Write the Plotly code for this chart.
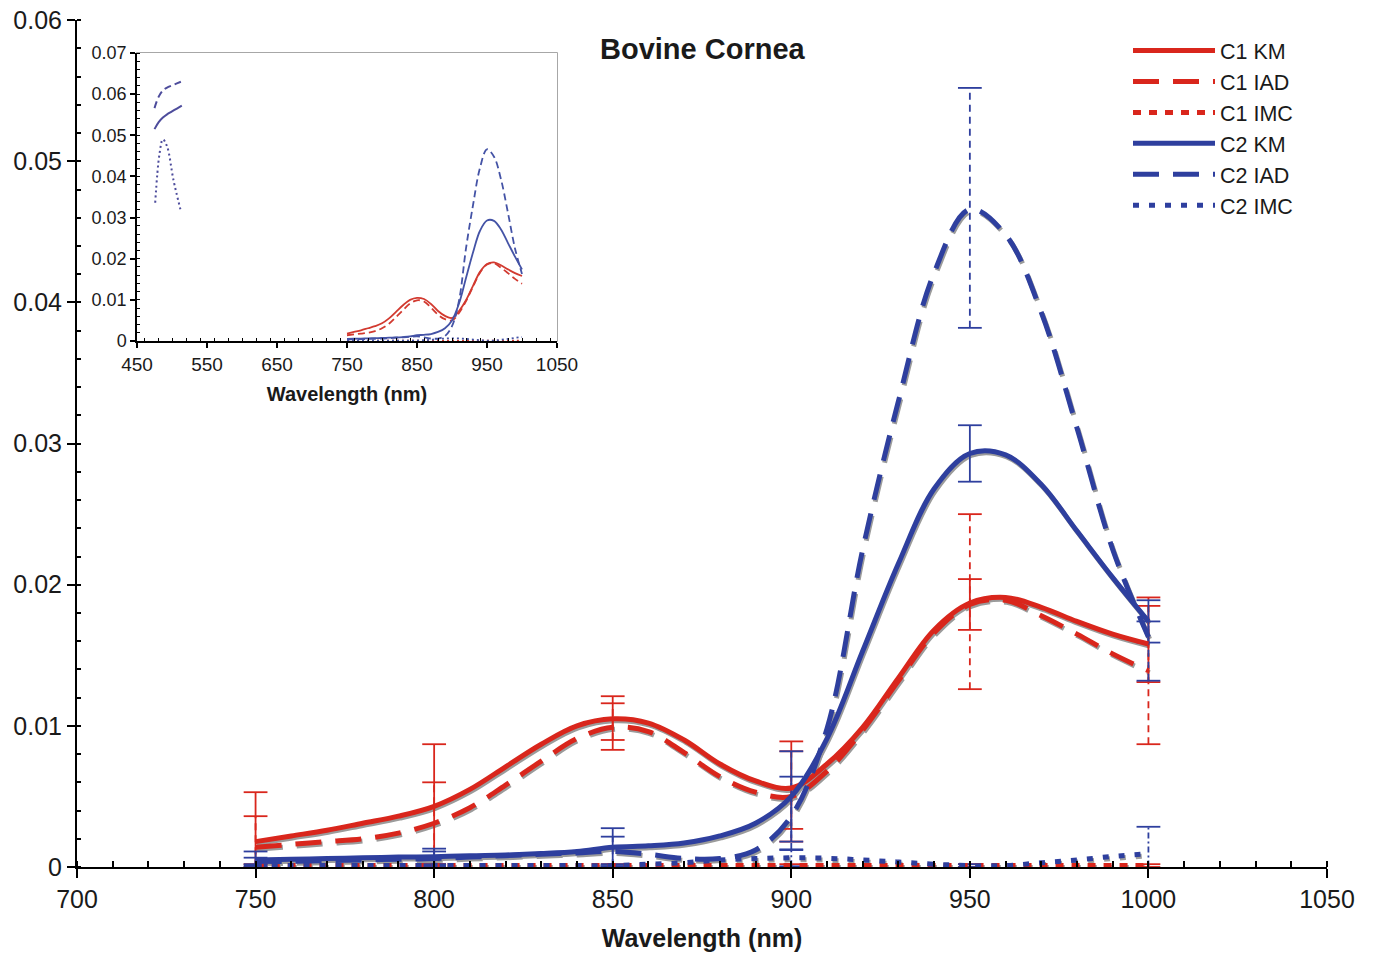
import plotly.graph_objects as go

# ---------------- data ----------------
wl = [750, 760, 770, 780, 790, 800, 810, 820, 830, 840, 850, 860, 870,
      880, 890, 900, 910, 920, 930, 940, 950, 960, 970, 980, 990, 1000]

c1_km = [0.0018, 0.0022, 0.0026, 0.0031, 0.0036, 0.0043, 0.0055, 0.0071, 0.0087, 0.0100,
         0.0105, 0.0102, 0.0090, 0.0073, 0.0061, 0.0056, 0.0073, 0.0099, 0.0134, 0.0168,
         0.0187, 0.0191, 0.0184, 0.0174, 0.0165, 0.0158]
c1_iad = [0.0014, 0.0016, 0.0018, 0.0020, 0.0024, 0.0031, 0.0042, 0.0058, 0.0075, 0.0091,
          0.0099, 0.0096, 0.0081, 0.0064, 0.0053, 0.0050, 0.0068, 0.0097, 0.0132, 0.0166,
          0.0186, 0.0189, 0.0178, 0.0165, 0.0151, 0.0139]
c1_imc = [0.0001] * 26
c2_km = [0.0005, 0.00055, 0.0006, 0.00065, 0.0007, 0.00073, 0.0008, 0.00085, 0.00095, 0.0011,
         0.0014, 0.0015, 0.0017, 0.0022, 0.0031, 0.0050, 0.0091, 0.0153, 0.0215, 0.0268,
         0.0293, 0.0292, 0.0271, 0.0238, 0.0205, 0.0174]
c2_iad = [0.0004, 0.0004, 0.00045, 0.0005, 0.00055, 0.0006, 0.0007, 0.0008, 0.0009, 0.0010,
          0.0011, 0.0009, 0.0006, 0.0006, 0.0012, 0.0036, 0.0098, 0.0225, 0.0330, 0.0421,
          0.0466, 0.0448, 0.0393, 0.0311, 0.0225, 0.0163]
c2_imc = [0.0001, 0.0001, 0.0001, 0.0001, 0.0001, 0.0001, 0.0001, 0.0001, 0.0001, 0.0001,
          0.0001, 0.0002, 0.0003, 0.0005, 0.0006, 0.00065, 0.00062, 0.0005, 0.00035, 0.0002,
          0.0001, 0.0001, 0.0003, 0.0005, 0.00075, 0.00095]

# error bars at the measured wavelengths
err_wl = [750, 800, 850, 900, 950, 1000]
c1_km_c = [0.0018, 0.0043, 0.0102, 0.0058, 0.0186, 0.0158]
c1_km_e = [0.0035, 0.0044, 0.0019, 0.0031, 0.0018, 0.0027]
c1_iad_c = [0.0014, 0.0031, 0.0103, 0.0050, 0.0188, 0.0139]
c1_iad_e = [0.0022, 0.0029, 0.0013, 0.0032, 0.0062, 0.0052]
c1_imc_c = [0.0001, 0.0001, 0.0001, 0.0001, 0.0001, 0.0001]
c1_imc_e = [0.0001, 0.0001, 0.0001, 0.0001, 0.0001, 0.0001]
c2_km_c = [0.0006, 0.0007, 0.00145, 0.0050, 0.0293, 0.0174]
c2_km_e = [0.0005, 0.0006, 0.0013, 0.0032, 0.0020, 0.0015]
c2_iad_c = [0.0003, 0.0005, 0.0011, 0.0038, 0.0467, 0.0153]
c2_iad_e = [0.00036, 0.0006, 0.00105, 0.0026, 0.0085, 0.0021]
c2_imc_c = [0.0001, 0.0001, 0.0001, 0.00065, 0.0001, 0.00095]
c2_imc_e = [0.0001, 0.0001, 0.0001, 0.0006, 0.0001, 0.0019]

# inset: extra short segments at the blue end of the spectrum
inset_wl = [475, 481, 487, 493, 500, 507, 514]
inset_km = [0.0515, 0.0532, 0.0543, 0.0551, 0.0558, 0.0565, 0.0572]
inset_iad = [0.0566, 0.0594, 0.0609, 0.0616, 0.0621, 0.0626, 0.0631]
inset_imc_wl = [476, 482, 487, 493, 502, 512]
inset_imc = [0.0336, 0.0453, 0.0490, 0.0473, 0.0392, 0.0320]

main_yticks = [0, 0.01, 0.02, 0.03, 0.04, 0.05, 0.06]
main_yticktext = ["0", "0.01", "0.02", "0.03", "0.04", "0.05", "0.06"]

# ---------------- styles ----------------
RED = "#d9261c"
BLUE = "#2e3f9e"
GREY = "#9b9b9b"
IN_RED = "#d23a30"
IN_BLUE = "#4453a6"
IN_PURP = "#4d4c9c"
FONT = "Liberation Sans, Arial, Helvetica, sans-serif"

series = [
    ("C1 KM", c1_km, RED, "solid", c1_km_c, c1_km_e, "solid"),
    ("C1 IAD", c1_iad, RED, "26px,14px", c1_iad_c, c1_iad_e, "7px,5px"),
    ("C1 IMC", c1_imc, RED, "8px,8px", c1_imc_c, c1_imc_e, "6px,3px,2px,3px"),
    ("C2 KM", c2_km, BLUE, "solid", c2_km_c, c2_km_e, "solid"),
    ("C2 IAD", c2_iad, BLUE, "26px,14px", c2_iad_c, c2_iad_e, "7px,5px"),
    ("C2 IMC", c2_imc, BLUE, "6px,10px", c2_imc_c, c2_imc_e, "6px,3px,2px,3px"),
]
inset_dash = {"solid": "solid", "26px,14px": "7px,4px", "8px,8px": "2px,3px", "6px,10px": "2px,3px"}

# page layout: the html body adds an 8px offset, compensate for it
BODY = 8
W, H = 1373 - BODY, 960 - BODY
ML, MR, MT, MB = 77 - BODY, 1373 - 1327, 20 - BODY, 960 - 867
X0, X1, Y0, Y1 = 700, 1050, 0.0, 0.06
YTOP = Y1 * 1.0002  # tiny headroom so the top tick is kept
PLOT_W, PLOT_H = W - ML - MR, H - MT - MB
dx = 1.2 * (X1 - X0) / PLOT_W
dy = 2.0 * (YTOP - Y0) / PLOT_H


def px_x(p):  # page pixel -> paper x
    return (p - BODY - ML) / PLOT_W


def px_y(p):  # page pixel -> paper y
    return (H - MB - (p - BODY)) / PLOT_H


fig = go.Figure()

# shadows (base axes, shifted range)
for name, ys, col, dash, *_ in series:
    fig.add_trace(go.Scatter(x=wl, y=ys, mode="lines", xaxis="x", yaxis="y",
                             line=dict(color=GREY, width=5, dash=dash, shape="spline"),
                             showlegend=False, hoverinfo="skip"))

# error bars (drawn first so the curves sit on top)
for name, ys, col, dash, cc, ee, edash in series:
    bx, by = [], []
    for xv, cv, ev in zip(err_wl, cc, ee):
        bx += [xv, xv, None]
        by += [cv - ev, cv + ev, None]
    fig.add_trace(go.Scatter(x=bx, y=by, mode="lines", xaxis="x3", yaxis="y3",
                             line=dict(color=col, width=1.8, dash=edash),
                             showlegend=False, hoverinfo="skip"))
    fig.add_trace(go.Scatter(x=err_wl + err_wl,
                             y=[c - e for c, e in zip(cc, ee)] + [c + e for c, e in zip(cc, ee)],
                             mode="markers", xaxis="x3", yaxis="y3",
                             marker=dict(symbol="line-ew", size=17,
                                         line=dict(color=col, width=1.8)),
                             showlegend=False, hoverinfo="skip"))

# main curves
for name, ys, col, dash, *_ in series:
    fig.add_trace(go.Scatter(x=wl, y=ys, mode="lines", name=name, xaxis="x3", yaxis="y3",
                             line=dict(color=col, width=5, dash=dash, shape="spline")))

# inset curves
for name, ys, col, dash, *_ in series:
    icol = IN_RED if col == RED else IN_BLUE
    fig.add_trace(go.Scatter(x=wl, y=ys, mode="lines", xaxis="x2", yaxis="y2",
                             line=dict(color=icol, width=1.8, dash=inset_dash[dash], shape="spline"),
                             showlegend=False, hoverinfo="skip"))
fig.add_trace(go.Scatter(x=inset_wl, y=inset_km, mode="lines", xaxis="x2", yaxis="y2",
                         line=dict(color=IN_PURP, width=2, shape="spline"),
                         showlegend=False, hoverinfo="skip"))
fig.add_trace(go.Scatter(x=inset_wl, y=inset_iad, mode="lines", xaxis="x2", yaxis="y2",
                         line=dict(color=IN_PURP, width=2, dash="7px,4px", shape="spline"),
                         showlegend=False, hoverinfo="skip"))
fig.add_trace(go.Scatter(x=inset_imc_wl, y=inset_imc, mode="lines", xaxis="x2", yaxis="y2",
                         line=dict(color=IN_PURP, width=2, dash="2px,3px", shape="spline"),
                         showlegend=False, hoverinfo="skip"))

ix0, ix1 = px_x(137), px_x(557)
iy0, iy1 = px_y(341), px_y(53)

fig.update_layout(
    template="none",
    width=W, height=H,
    margin=dict(l=ML, r=MR, t=MT, b=MB, autoexpand=False),
    paper_bgcolor="white", plot_bgcolor="white",
    font=dict(family=FONT, color="#1a1a1a"),
    xaxis=dict(domain=[0, 1], range=[X0 - dx, X1 - dx], visible=False, fixedrange=True,
               automargin=False),
    yaxis=dict(domain=[0, 1], range=[Y0 + dy, YTOP + dy], visible=False, fixedrange=True,
               automargin=False),
    xaxis3=dict(overlaying="x", anchor="y3", range=[X0, X1], dtick=50, tick0=700,
                automargin=False, ticklabeloverflow="allow",
                showgrid=False, zeroline=False, showline=True, linecolor="black", linewidth=2,
                ticks="outside", ticklen=9, tickwidth=2, tickcolor="black",
                tickfont=dict(size=25, family=FONT),
                minor=dict(dtick=10, ticks="inside", ticklen=6, tickwidth=1.5, tickcolor="black"),
                title=dict(text="<b>Wavelength (nm)</b>", font=dict(size=25, family=FONT), standoff=17)),
    yaxis3=dict(overlaying="y", anchor="x3", range=[Y0, YTOP],
                tickmode="array", tickvals=main_yticks, ticktext=main_yticktext,
                automargin=False, ticklabeloverflow="allow",
                showgrid=False, zeroline=False, showline=True, linecolor="black", linewidth=2,
                ticks="outside", ticklen=8, tickwidth=2, tickcolor="black",
                tickfont=dict(size=25, family=FONT), ticklabelstandoff=0,
                minor=dict(tickmode="linear", tick0=0, dtick=0.002, ticks="inside", ticklen=4,
                           tickwidth=1.5, tickcolor="black")),
    xaxis2=dict(domain=[ix0, ix1], anchor="y2", range=[450, 1050], dtick=100, tick0=450,
                automargin=False,
                showgrid=False, zeroline=False, showline=True, linecolor="black", linewidth=1.5,
                ticks="outside", ticklen=5, tickwidth=1.5, tickcolor="black",
                tickfont=dict(size=19, family=FONT),
                minor=dict(dtick=20, ticks="inside", ticklen=3, tickwidth=1, tickcolor="black"),
                title=dict(text="<b>Wavelength (nm)</b>", font=dict(size=20, family=FONT), standoff=13)),
    yaxis2=dict(domain=[iy0, iy1], anchor="x2", range=[0, 0.07], dtick=0.01, tick0=0,
                automargin=False,
                showgrid=False, zeroline=False, showline=True, linecolor="black", linewidth=1.5,
                ticks="outside", ticklen=5, tickwidth=1.5, tickcolor="black",
                tickfont=dict(size=18, family=FONT),
                minor=dict(dtick=0.002, ticks="inside", ticklen=3, tickwidth=1, tickcolor="black")),
    legend=dict(x=px_x(1128), y=px_y(30), xanchor="left", yanchor="top", bgcolor="rgba(0,0,0,0)",
                font=dict(size=21.5, family=FONT), itemwidth=82, tracegroupgap=0),
    shapes=[dict(type="rect", xref="x2 domain", yref="y2 domain", x0=0, x1=1, y0=0, y1=1,
                 line=dict(color="#8a8a8a", width=1.5), layer="below")],
    annotations=[dict(text="<b>Bovine Cornea</b>", x=px_x(703), y=px_y(49),
                      xref="paper", yref="paper", showarrow=False,
                      xanchor="center", yanchor="middle",
                      font=dict(size=29, family=FONT, color="#1a1a1a"))],
)

fig.write_html("out.html")
